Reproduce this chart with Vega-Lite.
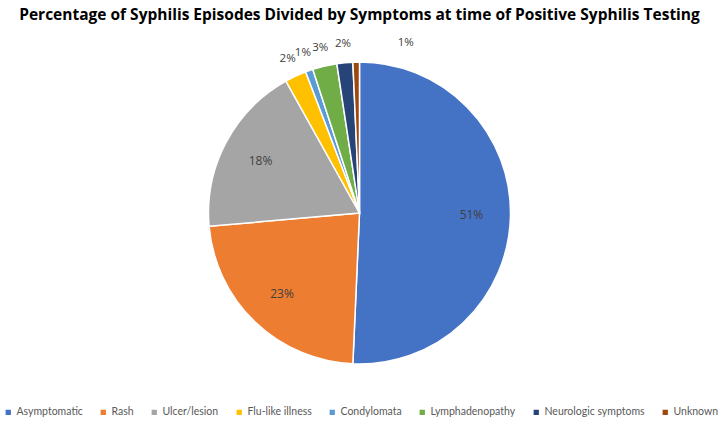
{
  "$schema": "https://vega.github.io/schema/vega-lite/v6.json",
  "width": 723,
  "height": 424,
  "autosize": {"type": "fit", "contains": "padding"},
  "padding": {"top": 7, "bottom": 6, "left": 3, "right": 7},
  "background": "white",
  "title": {
    "text": "Percentage of Syphilis Episodes Divided by Symptoms at time of Positive Syphilis Testing",
    "font": "Open Sans",
    "fontSize": 15.5,
    "fontWeight": "bold",
    "color": "#000000",
    "anchor": "middle",
    "offset": 14
  },
  "data": {
    "values": [
      {"symptom": "Asymptomatic", "pct": 50.7, "label": "51%", "order": 1},
      {"symptom": "Rash", "pct": 22.9, "label": "23%", "order": 2},
      {"symptom": "Ulcer/lesion", "pct": 18.3, "label": "18%", "order": 3},
      {"symptom": "Flu-like illness", "pct": 2.3, "label": "2%", "order": 4},
      {"symptom": "Condylomata", "pct": 0.8, "label": "1%", "order": 5},
      {"symptom": "Lymphadenopathy", "pct": 2.6, "label": "3%", "order": 6},
      {"symptom": "Neurologic symptoms", "pct": 1.7, "label": "2%", "order": 7},
      {"symptom": "Unknown", "pct": 0.7, "label": "1%", "order": 8}
    ]
  },
  "encoding": {
    "theta": {"field": "pct", "type": "quantitative", "stack": true, "sort": {"field": "order"}},
    "order": {"field": "order", "type": "quantitative"},
    "color": {
      "field": "symptom",
      "type": "nominal",
      "sort": ["Asymptomatic", "Rash", "Ulcer/lesion", "Flu-like illness", "Condylomata", "Lymphadenopathy", "Neurologic symptoms", "Unknown"],
      "scale": {
        "domain": ["Asymptomatic", "Rash", "Ulcer/lesion", "Flu-like illness", "Condylomata", "Lymphadenopathy", "Neurologic symptoms", "Unknown"],
        "range": ["#4472C4", "#ED7D31", "#A5A5A5", "#FFC000", "#5B9BD5", "#70AD47", "#264478", "#9E480E"]
      },
      "legend": {
        "orient": "bottom",
        "direction": "horizontal",
        "title": null,
        "symbolType": "square",
        "symbolSize": 28,
        "symbolStrokeWidth": 0,
        "labelFont": "Lato",
        "labelFontSize": 10.5,
        "labelColor": "#595959",
        "columnPadding": 15,
        "labelOffset": 3,
        "offset": 18
      }
    }
  },
  "layer": [
    {
      "mark": {"type": "arc", "outerRadius": 151, "stroke": "white", "strokeWidth": 1.5}
    },
    {
      "mark": {"type": "text", "radius": 112, "font": "Open Sans", "fontSize": 12},
      "encoding": {
        "text": {"condition": {"test": "datum.pct >= 10", "field": "label"}, "value": ""},
        "color": {"value": "#404040"}
      }
    },
    {
      "mark": {"type": "text", "radius": 170, "font": "Open Sans", "fontSize": 11.5},
      "encoding": {
        "text": {"condition": {"test": "datum.pct < 10 && datum.symptom != 'Unknown'", "field": "label"}, "value": ""},
        "color": {"value": "#404040"}
      }
    },
    {
      "mark": {"type": "text", "radius": 170, "dx": 50, "font": "Open Sans", "fontSize": 11.5},
      "encoding": {
        "text": {"condition": {"test": "datum.symptom == 'Unknown'", "field": "label"}, "value": ""},
        "color": {"value": "#404040"}
      }
    }
  ],
  "config": {"view": {"stroke": null}}
}
